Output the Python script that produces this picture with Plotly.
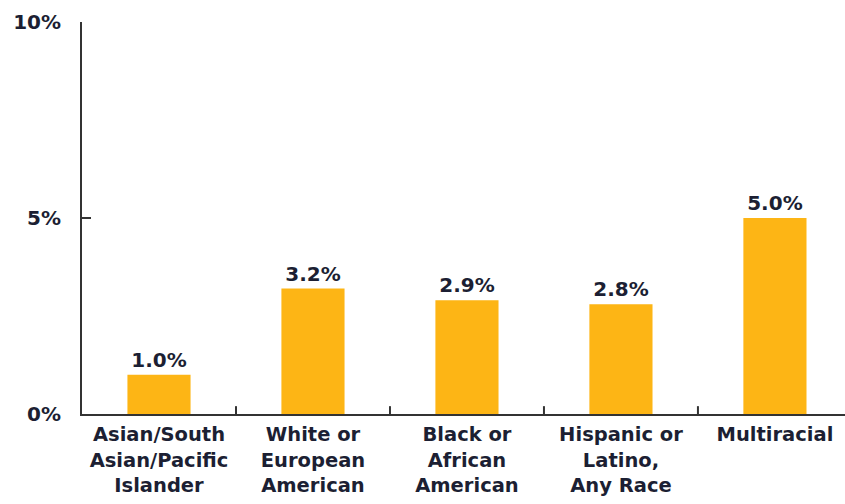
import plotly.graph_objects as go

categories = [
    "Asian/South<br>Asian/Pacific<br>Islander",
    "White or<br>European<br>American",
    "Black or<br>African<br>American",
    "Hispanic or<br>Latino,<br>Any Race",
    "Multiracial",
]
values = [1.0, 3.2, 2.9, 2.8, 5.0]
y_ticks = [0, 5, 10]
y_tick_labels = ["0%", "5%", "10%"]

BAR_COLOR = "#FDB515"
TEXT_COLOR = "#1c1f33"
FONT = "DejaVu Sans"

x_pos = list(range(len(categories)))

fig = go.Figure(
    go.Bar(
        x=x_pos,
        y=values,
        width=0.41,
        marker=dict(color=BAR_COLOR, line=dict(width=0)),
        text=[f"{v:.1f}%" for v in values],
        textposition="outside",
        textfont=dict(family=FONT, size=20, color=TEXT_COLOR, weight="bold"),
        cliponaxis=False,
    )
)

fig.update_layout(
    width=845,
    height=504,
    margin=dict(l=82, r=0, t=22, b=90),
    paper_bgcolor="white",
    plot_bgcolor="white",
    showlegend=False,
    font=dict(family=FONT, color=TEXT_COLOR),
    xaxis=dict(
        range=[-0.5, 4.455],
        tickmode="array",
        tickvals=x_pos,
        ticktext=categories,
        tickfont=dict(family=FONT, size=19.5, color=TEXT_COLOR, weight="bold"),
        ticks="",
        ticklabelstandoff=2,
        showline=True,
        linecolor="#333333",
        linewidth=2,
        showgrid=False,
        zeroline=False,
        fixedrange=True,
    ),
    yaxis=dict(
        range=[0, 10],
        tickmode="array",
        tickvals=y_ticks,
        ticktext=y_tick_labels,
        tickfont=dict(family=FONT, size=20, color=TEXT_COLOR, weight="bold"),
        ticks="inside",
        ticklen=9,
        tickwidth=2,
        tickcolor="#333333",
        ticklabelstandoff=15,
        showline=True,
        linecolor="#333333",
        linewidth=2,
        showgrid=False,
        zeroline=False,
    ),
)

# Inside tick marks between categories on the x axis
for b in [0.5, 1.5, 2.5, 3.5]:
    fig.add_shape(
        type="line", xref="x", yref="paper",
        x0=b, x1=b, y0=0, y1=0.02,
        line=dict(color="#333333", width=2),
    )

fig.write_html("out.html")
